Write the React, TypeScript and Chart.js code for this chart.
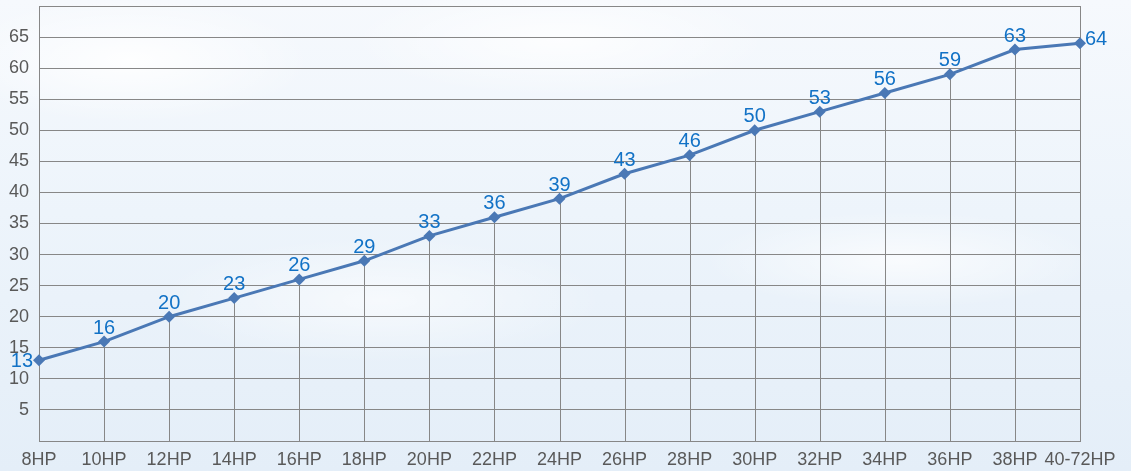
import React, { useEffect, useRef } from "react";
import { Chart, registerables } from "chart.js";

Chart.register(...registerables);

const categories = [
  "8HP", "10HP", "12HP", "14HP", "16HP", "18HP", "20HP", "22HP", "24HP",
  "26HP", "28HP", "30HP", "32HP", "34HP", "36HP", "38HP", "40-72HP",
];
const values = [13, 16, 20, 23, 26, 29, 33, 36, 39, 43, 46, 50, 53, 56, 59, 63, 64];
const yTicks = [5, 10, 15, 20, 25, 30, 35, 40, 45, 50, 55, 60, 65];

const LINE_COLOR = "#4a78b5";
const LABEL_COLOR = "#1272c6";
const GRID_COLOR = "#878787";
const TEXT_COLOR = "#595959";
const FONT = '"Liberation Sans", Arial, sans-serif';

// vertical drop lines from each point down to the x axis
const dropLines = {
  id: "dropLines",
  beforeDatasetsDraw(chart: any) {
    const { ctx, chartArea, scales } = chart;
    ctx.save();
    ctx.strokeStyle = GRID_COLOR;
    ctx.lineWidth = 1;
    values.forEach((v, i) => {
      const x = Math.round(scales.x.getPixelForValue(i)) + 0.5;
      const y = scales.y.getPixelForValue(v);
      ctx.beginPath();
      ctx.moveTo(x, y);
      ctx.lineTo(x, chartArea.bottom);
      ctx.stroke();
    });
    ctx.restore();
  },
};

// value labels above each point (first to the left, last to the right)
const valueLabels = {
  id: "valueLabels",
  afterDatasetsDraw(chart: any) {
    const { ctx } = chart;
    const meta = chart.getDatasetMeta(0);
    ctx.save();
    ctx.fillStyle = LABEL_COLOR;
    ctx.font = `20px ${FONT}`;
    meta.data.forEach((pt: any, i: number) => {
      const text = String(values[i]);
      if (i === 0) {
        ctx.textAlign = "right";
        ctx.textBaseline = "middle";
        ctx.fillText(text, pt.x - 6, pt.y + 1);
      } else if (i === values.length - 1) {
        ctx.textAlign = "left";
        ctx.textBaseline = "middle";
        ctx.fillText(text, pt.x + 5, pt.y - 4);
      } else {
        ctx.textAlign = "center";
        ctx.textBaseline = "alphabetic";
        ctx.fillText(text, pt.x, pt.y - 8);
      }
    });
    ctx.restore();
  },
};

const noEdgePadding = (s: any) => {
  s.paddingTop = 0;
  s.paddingBottom = 0;
  s.paddingLeft = 0;
  s.paddingRight = 0;
};

export default function App() {
  const canvasRef = useRef<HTMLCanvasElement | null>(null);

  useEffect(() => {
    if (!canvasRef.current) return;
    const chart = new Chart(canvasRef.current, {
      type: "line",
      data: {
        labels: categories,
        datasets: [
          {
            data: values,
            borderColor: LINE_COLOR,
            backgroundColor: LINE_COLOR,
            borderWidth: 3,
            pointStyle: "rectRot",
            pointRadius: 6,
            pointBorderWidth: 0,
            pointBackgroundColor: LINE_COLOR,
            tension: 0,
            clip: false,
          },
        ],
      },
      options: {
        responsive: false,
        animation: false,
        layout: { padding: { top: 6, right: 51, left: 0, bottom: 0 } },
        plugins: {
          legend: { display: false },
          tooltip: { enabled: false },
        },
        scales: {
          x: {
            type: "category",
            offset: false,
            grid: {
              color: (c: any) =>
                c.index === categories.length - 1 ? GRID_COLOR : "transparent",
              drawTicks: false,
            },
            border: { color: GRID_COLOR, width: 1 },
            ticks: {
              color: TEXT_COLOR,
              font: { family: FONT, size: 18 },
              padding: 8,
              maxRotation: 0,
              autoSkip: false,
            },
            afterFit: (s: any) => {
              s.height = 30;
              noEdgePadding(s);
            },
          },
          y: {
            min: 0,
            max: 70,
            afterBuildTicks: (s: any) => {
              s.ticks = [0, ...yTicks, 70].map((v) => ({ value: v }));
            },
            grid: { color: GRID_COLOR, drawTicks: false },
            border: { color: GRID_COLOR, width: 1 },
            ticks: {
              color: TEXT_COLOR,
              font: { family: FONT, size: 18 },
              padding: 10,
              callback: (v: any) => (yTicks.includes(Number(v)) ? String(v) : ""),
            },
            afterFit: (s: any) => {
              s.width = 39;
              noEdgePadding(s);
            },
          },
        },
      },
      plugins: [dropLines, valueLabels],
    });
    return () => chart.destroy();
  }, []);

  return (
    <div
      style={{
        position: "fixed",
        left: 0,
        top: 0,
        width: 1131,
        height: 471,
        background:
          "radial-gradient(ellipse 260px 90px at 130px 60px, rgba(255,255,255,0.9), rgba(255,255,255,0) 70%)," +
          "radial-gradient(ellipse 300px 80px at 560px 40px, rgba(255,255,255,0.8), rgba(255,255,255,0) 70%)," +
          "radial-gradient(ellipse 280px 70px at 900px 260px, rgba(255,255,255,0.7), rgba(255,255,255,0) 70%)," +
          "radial-gradient(ellipse 320px 90px at 380px 300px, rgba(255,255,255,0.6), rgba(255,255,255,0) 70%)," +
          "linear-gradient(180deg, #f6f9fd 0%, #edf4fb 45%, #e4eef8 100%)",
      }}
    >
      <canvas ref={canvasRef} width={1131} height={471} style={{ display: "block" }} />
    </div>
  );
}
